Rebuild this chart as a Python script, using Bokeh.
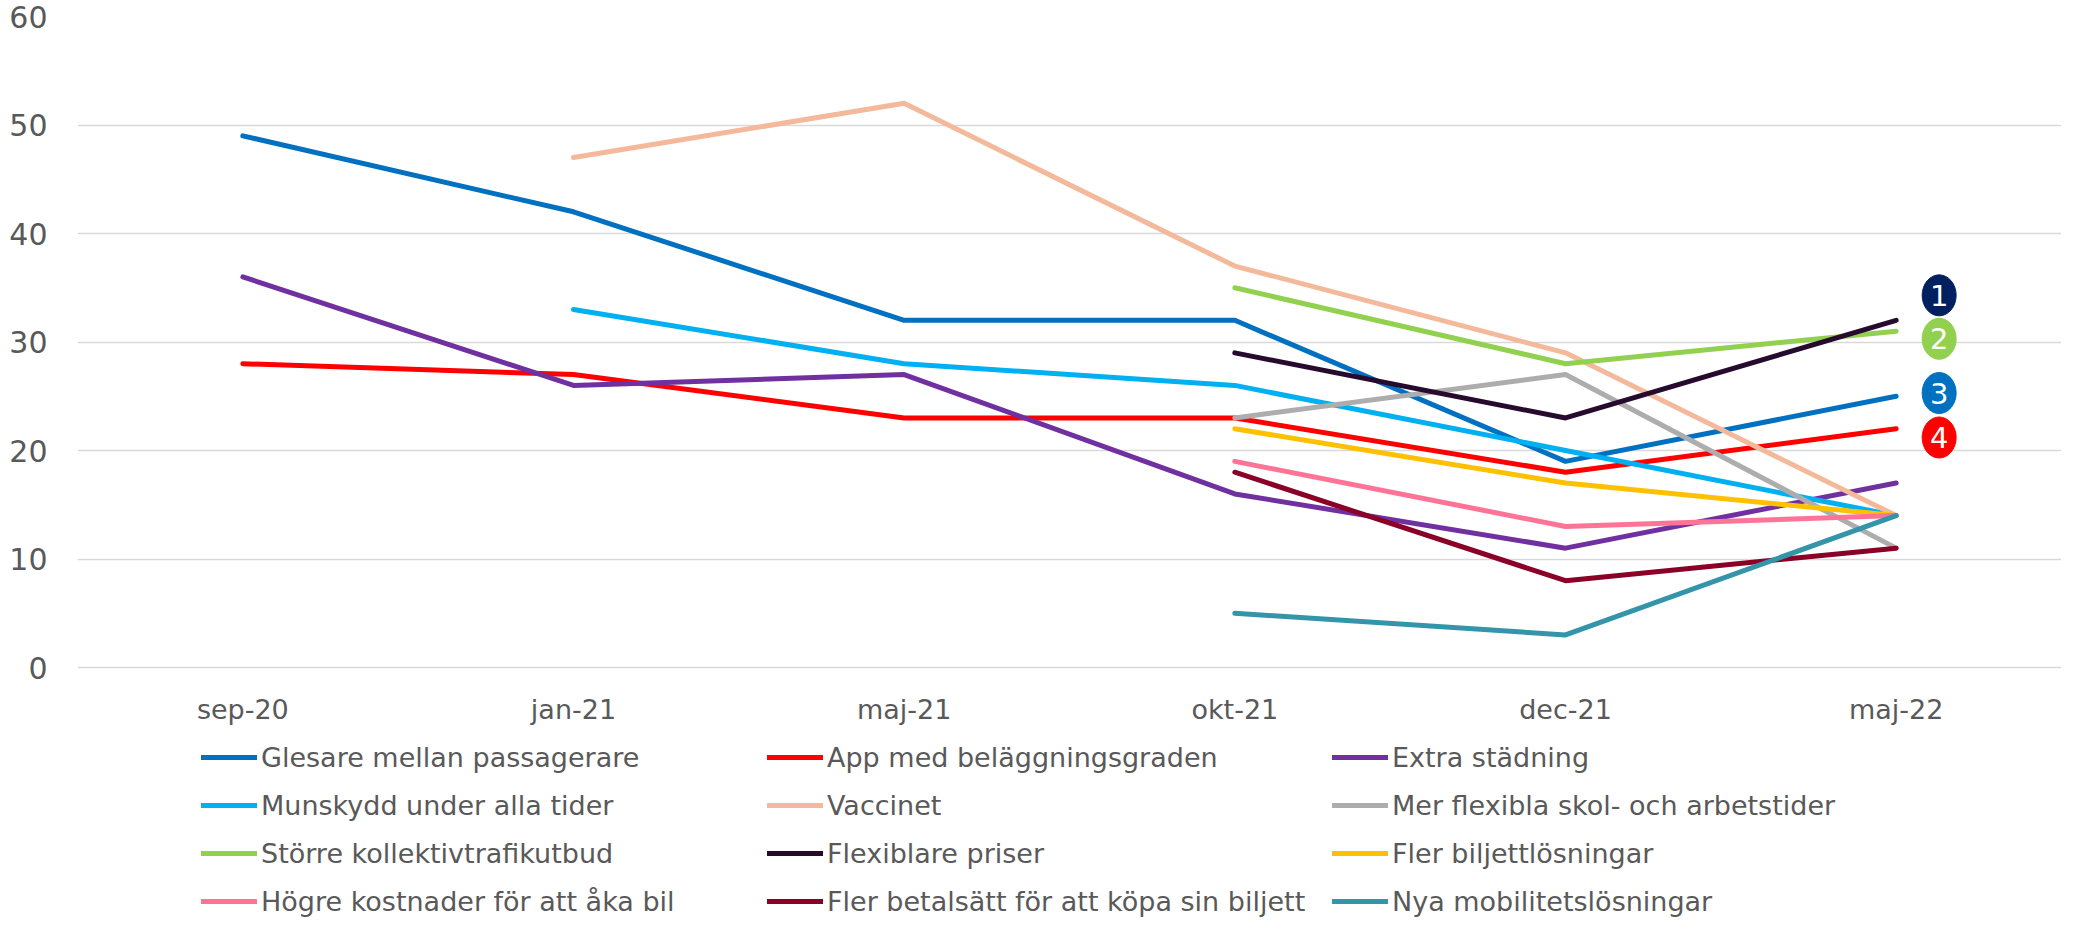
from bokeh.plotting import figure
from bokeh.models import (FactorRange, Range1d, FixedTicker, Legend, LegendItem, ColumnDataSource)
from bokeh.transform import dodge
from bokeh.core.properties import value
from bokeh.embed import file_html
from bokeh.resources import INLINE

nan = float("nan")

categories = ["sep-20", "jan-21", "maj-21", "okt-21", "dec-21", "maj-22"]

series_names = [
    "Glesare mellan passagerare",
    "App med beläggningsgraden",
    "Extra städning",
    "Munskydd under alla tider",
    "Vaccinet",
    "Mer flexibla skol- och arbetstider",
    "Större kollektivtrafikutbud",
    "Flexiblare priser",
    "Fler biljettlösningar",
    "Högre kostnader för att åka bil",
    "Fler betalsätt för att köpa sin biljett",
    "Nya mobilitetslösningar",
]

glesare = [49, 42, 32, 32, 19, 25]
app = [28, 27, 23, 23, 18, 22]
extra = [36, 26, 27, 16, 11, 17]
munskydd = [nan, 33, 28, 26, 20, 14]
vaccinet = [nan, 47, 52, 37, 29, 14]
mer_flexibla = [nan, nan, nan, 23, 27, 11]
storre = [nan, nan, nan, 35, 28, 31]
flexiblare = [nan, nan, nan, 29, 23, 32]
fler_biljett = [nan, nan, nan, 22, 17, 14]
hogre = [nan, nan, nan, 19, 13, 14]
fler_betal = [nan, nan, nan, 18, 8, 11]
nya = [nan, nan, nan, 5, 3, 14]

series_values = [glesare, app, extra, munskydd, vaccinet, mer_flexibla,
                 storre, flexiblare, fler_biljett, hogre, fler_betal, nya]

colors = ["#0070C0", "#FF0000", "#7030A0", "#00B0F0", "#F4B99A", "#ADADAD",
          "#92D050", "#260B2E", "#FFC000", "#FF7397", "#8B0026", "#3494AA"]

# rank badges beside the last category
badge_labels = ["1", "2", "3", "4"]
badge_y = [34.3, 30.3, 25.3, 21.2]
badge_colors = ["#002060", "#92D050", "#0070C0", "#FF0000"]

y_ticks = [0, 10, 20, 30, 40, 50, 60]

FONT = "DejaVu Sans"
GREY = "#595959"

# frame spans the whole lower area so the legend can sit under the x axis
p = figure(
    x_range=FactorRange(*categories, range_padding=0),
    y_range=Range1d(-23.04, 60),
    width=2061, height=917,
    output_backend="svg", toolbar_location=None,
    min_border_left=77, min_border_right=0, min_border_top=16, min_border_bottom=0,
)
p.outline_line_color = None
p.background_fill_color = "white"
p.border_fill_color = "white"

p.xgrid.grid_line_color = None
p.ygrid.grid_line_color = "#D9D9D9"
p.ygrid.grid_line_width = 1.5
p.ygrid.ticker = FixedTicker(ticks=y_ticks)

p.yaxis.ticker = FixedTicker(ticks=y_ticks)
p.xaxis.fixed_location = 0
for ax in (p.xaxis[0], p.yaxis[0]):
    ax.axis_line_color = None
    ax.major_tick_line_color = None
    ax.minor_tick_line_color = None
    ax.major_label_text_color = GREY
    ax.major_label_text_font = FONT
p.yaxis.major_label_text_font_size = "30px"
p.yaxis.major_label_standoff = 24
p.xaxis.major_label_text_font_size = "27px"
p.xaxis.major_label_standoff = 20

renderers = []
for name, vals, col in zip(series_names, series_values, colors):
    src = ColumnDataSource(dict(x=categories, y=vals))
    r = p.line("x", "y", source=src, line_color=col, line_width=5,
               line_join="round", line_cap="round")
    renderers.append(r)

legend_x = [124, 690, 1255]
for c in range(3):
    idx = [c, c + 3, c + 6, c + 9]
    lg = Legend(
        items=[LegendItem(label=series_names[i], renderers=[renderers[i]]) for i in idx],
        location=(legend_x[c], -8),
        glyph_width=56, glyph_height=48, label_height=48,
        label_standoff=4, spacing=0, padding=0, margin=0,
        label_text_font=FONT, label_text_font_size="27px", label_text_color=GREY,
        border_line_color=None, background_fill_alpha=0,
    )
    p.add_layout(lg, "center")

bsrc = ColumnDataSource(dict(x=["maj-22"] * 4, y=badge_y, t=badge_labels, c=badge_colors))
p.ellipse(x=dodge("x", 0.13, range=p.x_range), y="y", width=34, height=41,
          width_units="screen", height_units="screen", source=bsrc,
          fill_color="c", line_color="c")
p.text(x=dodge("x", 0.13, range=p.x_range), y="y", text="t", source=bsrc,
       text_color="white", text_font=value(FONT), text_font_size="29px",
       text_align="center", text_baseline="middle")

open("out.html", "w").write(file_html(p, INLINE))
